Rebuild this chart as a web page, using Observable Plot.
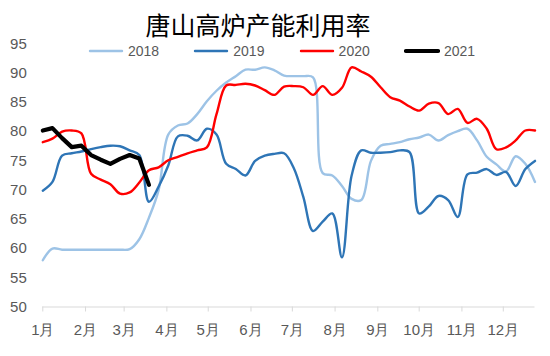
<!DOCTYPE html>
<html>
<head>
<meta charset="utf-8">
<script src="https://cdn.jsdelivr.net/npm/d3@7"></script>
<script src="https://cdn.jsdelivr.net/npm/@observablehq/plot@0.6"></script>
<style>
  body { margin: 0; background: #fff; }
  #wrap { position: relative; width: 550px; height: 356px; font-family: "Liberation Sans", Arial, sans-serif; }
  #chart { position: absolute; left: 0; top: 0; }
  #title { position: absolute; left: 0; top: 8px; width: 516px; text-align: center;
           font-family: "Noto Sans CJK SC", sans-serif; font-size: 25px; line-height: 32px; color: #000; }
  #legend { position: absolute; left: 88px; top: 43px; display: flex; }
  .item { display: flex; align-items: center; width: 105.3px; height: 16px; font-size: 14px; color: #595959; }
  .item svg { margin-right: 4px; }
  #chart g[aria-label="x-axis tick"] { stroke: #d9d9d9; }
</style>
</head>
<body>
<div id="wrap">
  <div id="chart"></div>
  <div id="title"></div>
  <div id="legend"></div>
</div>
<script>
const titleText = "唐山高炉产能利用率";
const weeks = [1,2,3,4,5,6,7,8,9,10,11,12,13,14,15,16,17,18,19,20,21,22,23,24,25,26,
               27,28,29,30,31,32,33,34,35,36,37,38,39,40,41,42,43,44,45,46,47,48,49,50,51,52];
const v2018 = [58.0,60.0,59.8,59.8,59.8,59.8,59.8,59.8,59.8,59.9,61.6,65.3,70.0,79.5,81.05,81.4,83.0,85.2,87.0,88.4,
               89.5,90.6,90.6,91.0,90.5,89.6,89.5,89.5,89.3,72.9,72.5,70.7,68.5,68.3,75.0,77.6,77.9,78.2,78.7,79.0,
               79.5,78.5,79.4,80.1,80.5,78.5,75.7,74.4,73.2,75.8,74.5,71.4];
const v2019 = [69.9,71.4,75.9,76.3,76.6,77.0,77.35,77.6,77.5,76.8,76.0,68.0,70.6,74.2,79.2,79.3,78.5,80.5,79.5,74.5,
               73.6,72.5,75.0,75.9,76.2,76.3,73.8,68.8,63.0,64.6,66.0,58.5,72.5,76.8,76.4,76.4,76.5,76.8,76.5,66.0,
               67.2,69.0,68.3,65.4,72.7,73.0,73.6,72.6,73.1,70.7,73.6,75.0];
const v2020 = [78.2,78.8,80.0,80.2,79.7,72.8,71.8,71.0,69.4,69.6,71.3,73.4,73.9,75.1,75.7,76.3,76.8,77.3,83.0,87.9,
               88.0,88.2,87.9,87.1,86.3,87.7,87.8,87.6,86.3,87.8,86.3,87.5,91.0,90.3,89.4,87.6,85.9,85.3,84.3,83.6,
               84.8,84.9,83.0,83.9,81.5,82.2,80.5,77.0,77.3,78.5,80.2,80.2];
const v2021 = [80.2,80.6,78.9,77.35,77.6,76.0,75.2,74.5,75.35,76.0,75.4,70.9];
const seriesNames = ["2018", "2019", "2020", "2021"];
const seriesColors = ["#9DC3E6", "#2E75B6", "#FF0000", "#000000"];
const seriesWidths = [2.4, 2.4, 2.4, 4.2];
const monthStartDays = [0,31,59,90,120,151,181,212,243,273,304,334];
const monthLabels = ["1月","2月","3月","4月","5月","6月","7月","8月","9月","10月","11月","12月"];
const yTicks = [50,55,60,65,70,75,80,85,90,95];

const allValues = [v2018, v2019, v2020, v2021];
const rows = [];
allValues.forEach((vals, s) => {
  vals.forEach((v, i) => rows.push({series: seriesNames[s], day: (weeks[i] - 1) * 7, value: v}));
});

const marks = [Plot.ruleY([50], {stroke: "#d9d9d9", strokeWidth: 1})];
seriesNames.forEach((name, s) => {
  marks.push(Plot.line(rows.filter(r => r.series === name), {
    x: "day", y: "value",
    stroke: seriesColors[s], strokeWidth: seriesWidths[s],
    curve: name === "2021" ? "linear" : "catmull-rom",
    strokeLinejoin: "round", strokeLinecap: "round"
  }));
});

const chart = Plot.plot({
  width: 550, height: 356,
  marginLeft: 42.3, marginRight: 15.5, marginTop: 43.5, marginBottom: 49.5,
  style: {fontSize: "15px", fontFamily: "'Liberation Sans', Arial, sans-serif", color: "#595959", background: "transparent", overflow: "visible"},
  x: {domain: [0, 357], ticks: monthStartDays, tickFormat: d => monthLabels[monthStartDays.indexOf(d)],
      tickSize: 5, tickPadding: 12, label: null},
  y: {domain: [50, 95], ticks: yTicks, tickSize: 0, tickPadding: 16, label: null},
  marks
});
document.getElementById("chart").appendChild(chart);
document.getElementById("title").textContent = titleText;

const legend = document.getElementById("legend");
seriesNames.forEach((name, s) => {
  const item = document.createElement("div");
  item.className = "item";
  item.innerHTML = `<svg width="36" height="8"><line x1="2" x2="34" y1="4" y2="4" stroke="${seriesColors[s]}" stroke-width="${seriesWidths[s]}" stroke-linecap="round"/></svg><span>${name}</span>`;
  legend.appendChild(item);
});
</script>
</body>
</html>
